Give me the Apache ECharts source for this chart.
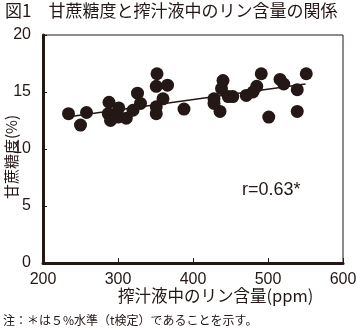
<!DOCTYPE html>
<html><head><meta charset="utf-8">
<script src="https://cdn.jsdelivr.net/npm/echarts@6/dist/echarts.min.js"></script>
<style>html,body{margin:0;padding:0;background:#fff}#c{width:357px;height:329px}</style>
</head><body><div id="c"></div>
<script>
const phosphorus = [234,250,258,288,287,290,301,300,311,320,326,330,352,351,366,360,351,351,388,440,438,447,428,428,436,453,471,480,485,491,501,516,521,539,539,551];
const brix = [13.1,12.1,13.2,14.1,13.1,12.5,13.6,12.8,12.7,13.4,14.9,14.0,16.6,15.5,15.6,14.4,13.7,13.1,13.5,16.0,15.3,14.6,14.4,14.0,13.3,14.6,14.7,15.0,15.5,16.6,12.8,16.1,15.7,15.2,13.3,16.6];
const trendX = [232, 550];
const trendY = [12.8, 15.7];
const xTicks = [200,300,400,500,600];
const yTicks = [0,5,10,15,20];

const pts = phosphorus.map((x,i)=>[x,brix[i]]);
const trend = trendX.map((x,i)=>[x,trendY[i]]);
const font = "'Noto Sans CJK JP', sans-serif";
const numFont = "'Liberation Sans Narrow', 'Liberation Sans', Arial, sans-serif";
const chart = echarts.init(document.getElementById('c'), null, {renderer:'canvas'});
chart.setOption({
  animation:false,
  grid:{left:43,right:14,top:35,bottom:66,containLabel:false,outerBoundsMode:'none',show:true,borderColor:'#231815',borderWidth:1},
  xAxis:[{
    type:'value',min:200,max:600,interval:100,
    axisLine:{show:true,onZero:false,lineStyle:{color:'#231815',width:3}},
    axisTick:{show:true,inside:true,length:5,lineStyle:{color:'#231815',width:1}},
    splitLine:{show:false},
    axisLabel:{color:'#231815',fontSize:16,fontFamily:numFont,margin:9,formatter:v=>xTicks.includes(v)?String(v):''}
  }],
  yAxis:[{
    type:'value',min:0,max:20,interval:5,
    axisLine:{show:true,onZero:false,lineStyle:{color:'#231815',width:3}},
    axisTick:{show:true,inside:true,length:4,lineStyle:{color:'#231815',width:1}},
    splitLine:{show:false},
    axisLabel:{color:'#231815',fontSize:16,fontFamily:numFont,margin:12,formatter:v=>yTicks.includes(v)?String(v):''}
  }],
  series:[
    {type:'line',data:trend,symbol:'none',lineStyle:{color:'#231815',width:1.5},z:1},
    {type:'scatter',data:pts,symbol:'circle',symbolSize:13,itemStyle:{color:'#231815',opacity:1},z:2}
  ],
  graphic:[
    {type:'text',left:5,top:2,style:{text:'図1　甘蔗糖度と搾汁液中のリン含量の関係',fill:'#231815',font:'17px '+font}},
    {type:'text',x:118,y:296,style:{text:'搾汁液中のリン含量(ppm)',fill:'#231815',font:'16.5px '+font,textAlign:'left',textVerticalAlign:'middle'}},
    {type:'text',x:11,y:157,rotation:Math.PI/2,style:{text:'甘蔗糖度(%)',fill:'#231815',font:'15px '+font,textAlign:'center',textVerticalAlign:'middle'}},
    {type:'text',x:242,y:190,style:{text:'r=0.63*',fill:'#231815',font:"18px 'Liberation Sans', Arial, sans-serif",textAlign:'left',textVerticalAlign:'middle'}},
    {type:'text',x:3,y:320,style:{text:'注：＊は５%水準（t検定）であることを示す。',fill:'#231815',font:'12px '+font,textAlign:'left',textVerticalAlign:'middle'}}
  ]
});
</script></body></html>
